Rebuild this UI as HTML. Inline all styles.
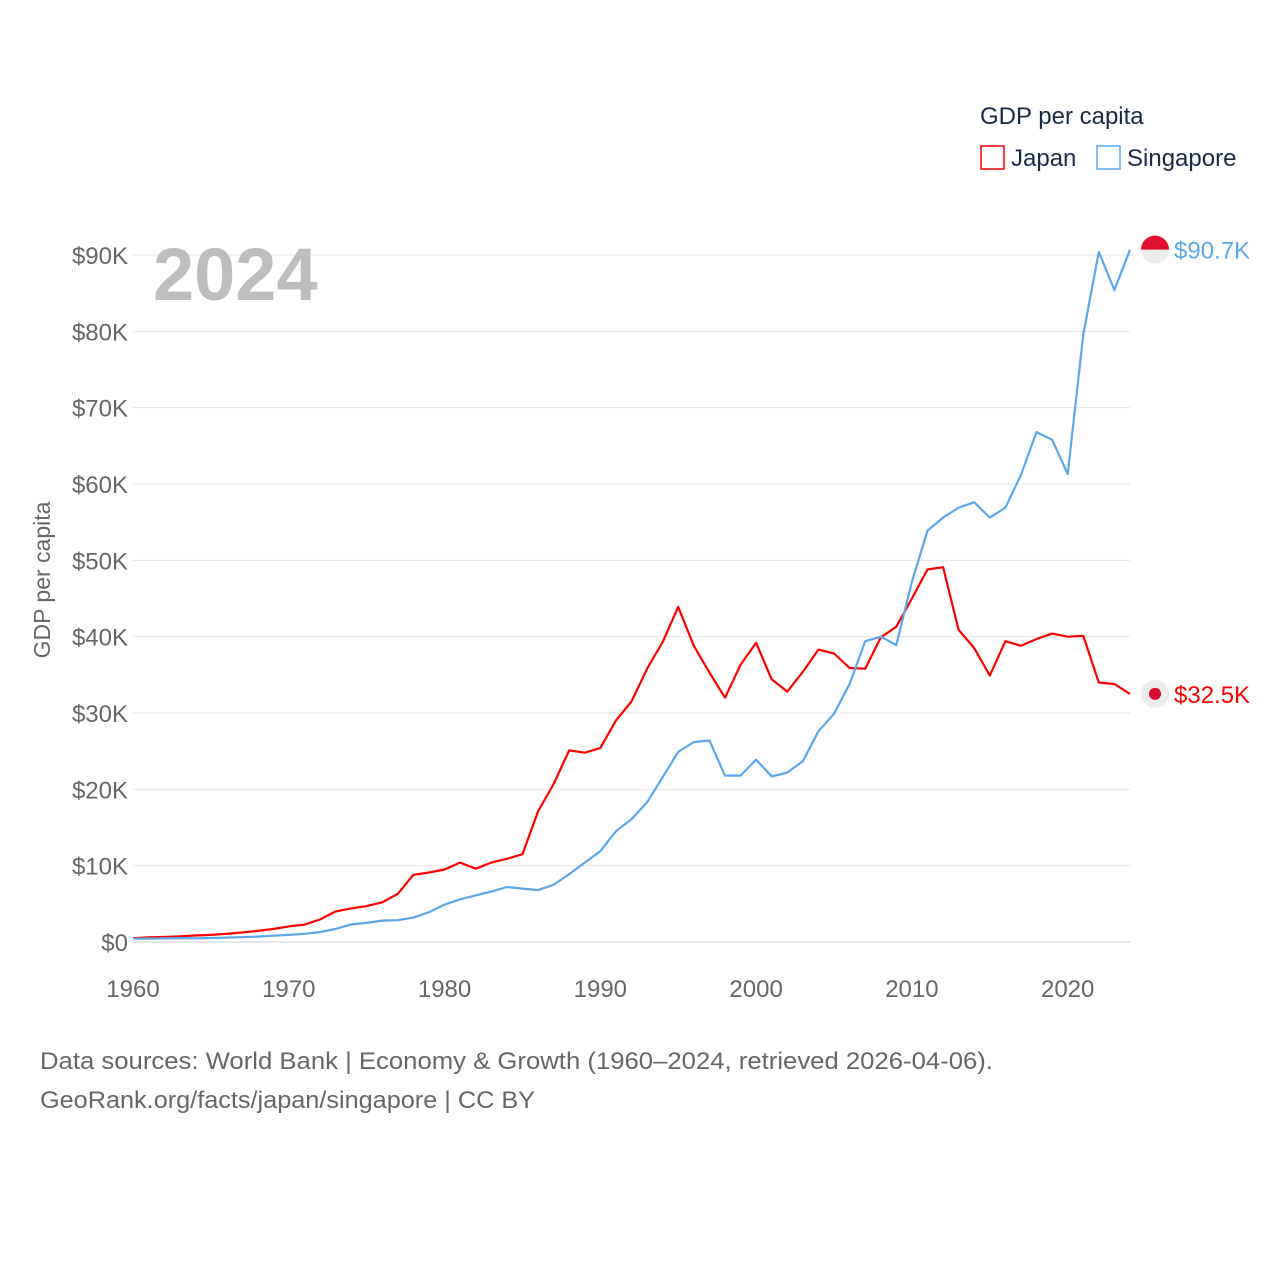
<!DOCTYPE html>
<html><head><meta charset="utf-8"><style>
html,body{margin:0;padding:0;background:#fff;}
svg text{font-family:"Liberation Sans",sans-serif;}
</style></head><body>
<svg id="chart" width="1280" height="1280" viewBox="0 0 1280 1280">
<g id="grid"></g>
<g id="yticks"></g>
<g id="xticks"></g>
<text x="153" y="300" font-size="74" font-weight="bold" fill="#bdbdbd">2024</text>
<text transform="translate(50,580) rotate(-90)" text-anchor="middle" font-size="23" fill="#666">GDP per capita</text>
<g id="series"></g>
<g>
<text x="980" y="124" font-size="24" fill="#1a2a44">GDP per capita</text>
<rect x="981" y="146" width="23" height="23" fill="none" stroke="#f00" stroke-width="1.5"/>
<text x="1011" y="166" font-size="24" fill="#1a2a44">Japan</text>
<rect x="1097" y="146" width="23" height="23" fill="none" stroke="#5ba7ea" stroke-width="1.5"/>
<text x="1127" y="166" font-size="24" fill="#1a2a44">Singapore</text>
</g>
<text x="40" y="1069" font-size="24" fill="#666" textLength="953" lengthAdjust="spacingAndGlyphs">Data sources: World Bank | Economy &amp; Growth (1960–2024, retrieved 2026-04-06).</text>
<text x="40" y="1108" font-size="24" fill="#666" textLength="495" lengthAdjust="spacingAndGlyphs">GeoRank.org/facts/japan/singapore | CC BY</text>
</svg>
<script>
const years=[];for(let y=1960;y<=2024;y++)years.push(y);
const japan=[0.5,0.6,0.65,0.75,0.85,0.93,1.07,1.25,1.45,1.7,2.04,2.27,2.95,4.0,4.4,4.7,5.2,6.3,8.8,9.1,9.5,10.4,9.6,10.4,10.9,11.5,17.1,20.7,25.1,24.8,25.4,29.0,31.5,35.8,39.3,43.9,38.8,35.3,32.0,36.3,39.2,34.4,32.8,35.4,38.3,37.8,35.9,35.8,39.9,41.3,45.0,48.8,49.1,40.9,38.5,34.9,39.4,38.8,39.7,40.4,40.0,40.1,34.0,33.8,32.5];
const singapore=[0.43,0.45,0.47,0.51,0.49,0.52,0.57,0.63,0.71,0.82,0.93,1.07,1.3,1.7,2.3,2.5,2.8,2.85,3.2,3.9,4.9,5.6,6.1,6.6,7.2,7.0,6.8,7.5,8.9,10.4,11.9,14.5,16.1,18.3,21.6,24.9,26.2,26.4,21.8,21.8,23.9,21.7,22.2,23.7,27.6,29.9,33.8,39.4,40.0,38.9,47.2,53.9,55.6,56.9,57.6,55.6,56.9,61.2,66.8,65.8,61.3,79.6,90.4,85.4,90.7];
const yTicks=[0,10,20,30,40,50,60,70,80,90];
const xTicks=[1960,1970,1980,1990,2000,2010,2020];
const NS="http://www.w3.org/2000/svg";
const x=v=>133+(v-1960)*(1130-133)/64;
const y=v=>942-v*(942-255)/90;
function mk(tag,attrs,parent){const e=document.createElementNS(NS,tag);for(const k in attrs)e.setAttribute(k,attrs[k]);parent.appendChild(e);return e;}
const grid=document.getElementById('grid'),yt=document.getElementById('yticks'),xt=document.getElementById('xticks'),ser=document.getElementById('series');
yTicks.forEach(t=>{
 const l=mk('line',{x1:133,x2:1130,y1:y(t),y2:y(t),stroke:t===0?'#ccc':'#e6e6e6','stroke-width':1},grid);
 
 
 const tx=mk('text',{x:128,y:y(t)+9,'text-anchor':'end','font-size':24,fill:'#666'},yt);
 tx.textContent='$'+t+(t?'K':'');
 
 
});
xTicks.forEach(t=>{
 const tx=mk('text',{x:x(t),y:997,'text-anchor':'middle','font-size':24,fill:'#666'},xt);
 tx.textContent=t;
 
 
});
function line(vals,color,name){
 const d=vals.map((v,i)=>(i?'L':'M')+x(years[i]).toFixed(1)+','+y(v).toFixed(1)).join('');
 const p=mk('path',{d:d,fill:'none',stroke:color,'stroke-width':2.2,'stroke-linejoin':'round'},ser);
 
 
 const last=vals[vals.length-1],ly=y(last);
 const c=mk('circle',{cx:1155,cy:ly,r:14,fill:'#ececec'},ser);
 
 
 const t=mk('text',{x:1174,y:ly+9,'font-size':24,fill:color},ser);
 t.textContent='$'+last.toFixed(1)+'K';
 
 
 return ly;
}
const jy=line(japan,'#f00','japan');
const sy=line(singapore,'#5ba7ea','singapore');
const jd=mk('circle',{cx:1155,cy:jy,r:6,fill:'#d60a2a'},ser);


const sf=mk('path',{d:`M1141,${sy} A14,14 0 0 1 1169,${sy} Z`,fill:'#e0102e'},ser);


</script>
</body></html>
